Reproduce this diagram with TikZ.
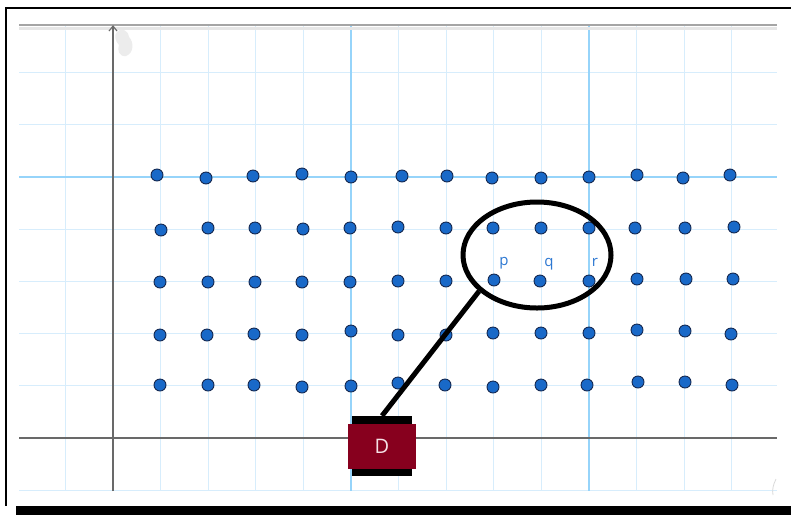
\documentclass[tikz,border=0pt]{standalone}
\usepackage{fontspec}
\setmainfont{Open Sans}
\usetikzlibrary{shapes.geometric}
\definecolor{minorgrid}{RGB}{215,237,252}
\definecolor{majorgrid}{RGB}{150,212,250}
\definecolor{axisgray}{RGB}{105,105,105}
\definecolor{dotblue}{RGB}{25,105,200}
\definecolor{dotedge}{RGB}{20,40,80}
\definecolor{dred}{RGB}{135,0,30}
\definecolor{lblblue}{RGB}{45,120,210}
\tikzset{
  dot/.style={circle,fill=dotblue,draw=dotedge,line width=0.9pt,inner sep=0pt,minimum size=12pt},
  lbl/.style={text=lblblue,font=\fontsize{15}{15}\selectfont,inner sep=0pt},
  minorline/.style={draw=minorgrid,line width=1pt},
  majorline/.style={draw=majorgrid,line width=1.6pt},
  axisline/.style={draw=axisgray,line width=1.3pt},
  thickblack/.style={draw=black,line width=5pt},
}
\begin{document}
\begin{tikzpicture}[x=1pt,y=-1pt]
\useasboundingbox (0,0) rectangle (791,515);
\fill[white] (0,0) rectangle (791,515);
% grid
\foreach \i in {-1,1,2,3,4,6,7,8,9,11,12,13}{
  \draw[minorline] ({113+47.6*\i},25) -- ({113+47.6*\i},491);
}
\foreach \j in {-1,1,2,3,4,6,7}{
  \draw[minorline] (19,{438-52.2*\j}) -- (777,{438-52.2*\j});
}
\foreach \i in {5,10}{
  \draw[majorline] ({113+47.6*\i},25) -- ({113+47.6*\i},491);
}
\draw[majorline] (19,177) -- (777,177);
% top gray edge
\draw[draw={rgb,255:red,230;green,230;blue,230},line width=3pt] (19,28) -- (777,28);
\draw[draw={rgb,255:red,165;green,165;blue,165},line width=2pt] (19,25) -- (777,25);
% axes
\coordinate (xl) at (19,438);
\coordinate (xr) at (777,438);
\coordinate (yb) at (113,491);
\coordinate (yt) at (113,26);
\draw[axisline] (xl) -- (xr);
\draw[axisline] (yb) -- (yt);
\draw[axisline,line width=1.1pt] (109,31) -- (113,26) -- (117,31);
% gray smudge
\fill[gray!15] (117,32) .. controls (121,27) and (128,30) .. (129,37)
  .. controls (134,42) and (134,53) .. (126,56)
  .. controls (119,57) and (117,50) .. (119,45)
  .. controls (115,41) and (114,35) .. (117,32) -- cycle;
% faint arc bottom right
\draw[gray!30,line width=0.8pt] (776,479) .. controls (773,485) and (772,490) .. (773,495);
% dots
\foreach \x/\y [count=\k] in {
157/175,206/178,253/176,302/174,351/177,402/176,447/176,492/178,541/178,589/177,637/175,683/178,730/175,
161/230,208/228,255/228,303/229,350/228,398/227,446/228,493/228,541/228,589/228,635/228,685/228,734/227,
160/282,208/282,255/282,302/282,350/282,398/281,446/281,494/280,540/281,589/281,637/279,686/279,733/279,
160/335,207/335,254/334,302/335,351/331,398/335,446/335,493/333,541/333,589/333,637/330,685/331,731/334,
160/385,208/385,254/385,302/387,351/386,398/383,445/385,493/387,541/385,587/385,638/382,685/382,732/385}{
  \node[dot] (d\k) at (\x,\y) {};
}
% labels
\node[lbl] (p) at (504,263) {p};
\node[lbl] (q) at (549,264) {q};
\node[lbl] (r) at (595,262) {r};
% ellipse
\node[ellipse,draw=black,line width=5pt,minimum width=148pt,minimum height=106pt,inner sep=0pt] (ell) at (537,255) {};
% D box
\node[fill=black,minimum width=60pt,minimum height=60pt,inner sep=0pt] (dbar) at (382,446) {};
\node[fill=dred,minimum width=68pt,minimum height=45pt,inner sep=0pt,text={rgb,255:red,245;green,225;blue,230},font=\fontsize{20}{20}\selectfont] (D) at (382,446.5) {D};
% connector
\draw[thickblack] (ell.212) -- (dbar.north);
% frame
\draw[black,line width=2pt] (791,8) -- (6,8) -- (6,506);
\fill[black] (16,506) rectangle (791,515);
\end{tikzpicture}
\end{document}
